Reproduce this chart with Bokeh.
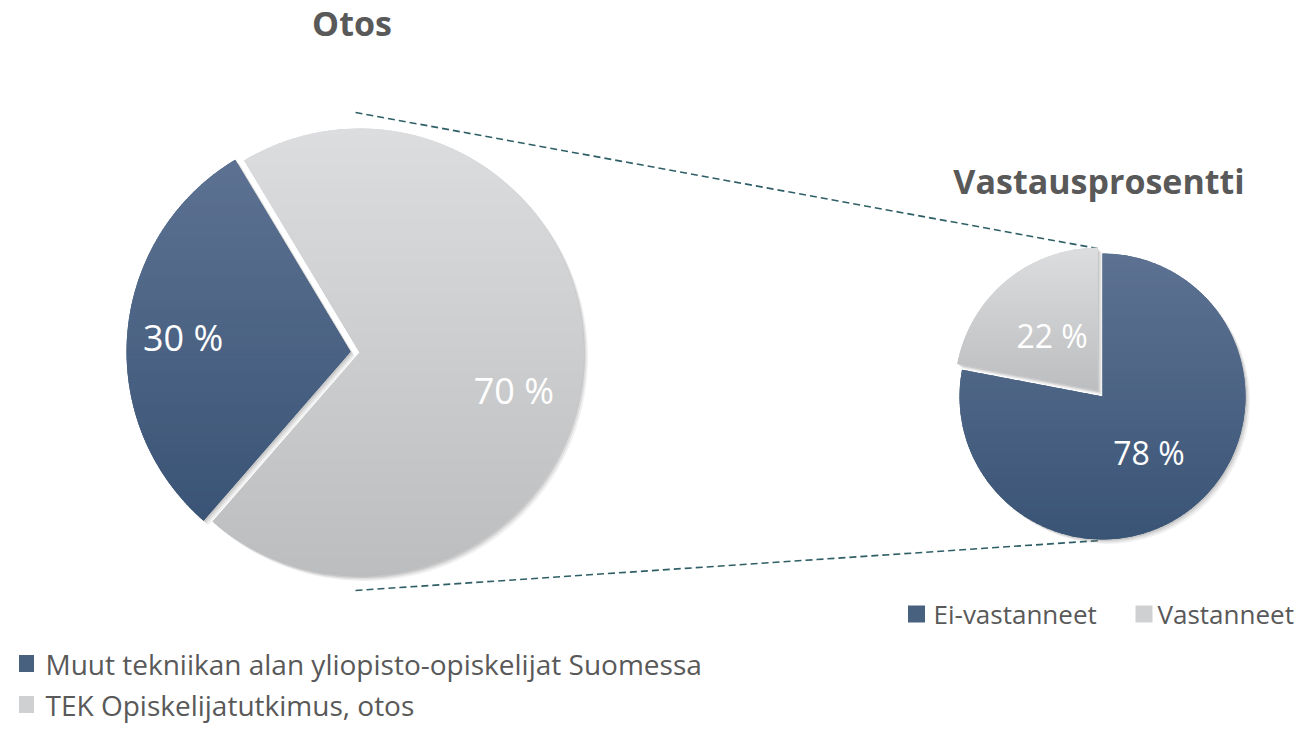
import math
import numpy as np
from bokeh.plotting import figure
from bokeh.models import Range1d, ColumnDataSource
from bokeh.core.properties import value
from bokeh.embed import file_html
from bokeh.resources import INLINE

# ---------------- data ----------------
otos_labels = ["Muut tekniikan alan yliopisto-opiskelijat Suomessa",
               "TEK Opiskelijatutkimus, otos"]
otos_values = [30, 70]

vastaus_labels = ["Ei-vastanneet", "Vastanneet"]
vastaus_values = [78, 22]

titles = ["Otos", "Vastausprosentti"]

# ---------------- style ----------------
DARK = ("#5d7292", "#3a5476")
LIGHT = ("#dcdddf", "#bcbdbf")
DARK_MID = "#48617f"
LIGHT_MID = "#cfd0d2"
TEXT_COLOR = "#595959"
LINE_COLOR = "#2f5f66"
FONT = "Open Sans"

W, H = 1296, 728

p = figure(width=W, height=H, x_range=Range1d(0, W), y_range=Range1d(0, H),
           x_axis_type=None, y_axis_type=None, output_backend="svg",
           toolbar_location=None, min_border=0)
p.grid.visible = False
p.outline_line_color = None
p.background_fill_color = "white"
p.border_fill_color = "white"


def hex2rgb(h):
    h = h.lstrip("#")
    return tuple(int(h[i:i + 2], 16) for i in (0, 2, 4))


def lerp_color(c0, c1, t):
    a, b = hex2rgb(c0), hex2rgb(c1)
    return "#%02x%02x%02x" % tuple(int(round(a[i] + (b[i] - a[i]) * t)) for i in range(3))


def clip_half(pts, inside, cross):
    out = []
    n = len(pts)
    for i in range(n):
        cur, prev = pts[i], pts[i - 1]
        if inside(cur):
            if not inside(prev):
                out.append(cross(prev, cur))
            out.append(cur)
        elif inside(prev):
            out.append(cross(prev, cur))
    return out


def cross_y(c):
    def f(a, b):
        t = (c - a[1]) / (b[1] - a[1])
        return (a[0] + t * (b[0] - a[0]), c)
    return f


def clip_slab(pts, ylo, yhi):
    pts = clip_half(pts, lambda q: q[1] >= ylo, cross_y(ylo))
    if len(pts) < 3:
        return []
    pts = clip_half(pts, lambda q: q[1] <= yhi, cross_y(yhi))
    return pts


def draw_pie(values, cx, cy, r, start_deg, explode, colors, mids, label_specs, label_size):
    total = float(sum(values))
    geo = []
    a = start_deg
    for i, v in enumerate(values):
        span = 360.0 * v / total
        a0, a1 = a, a + span
        mid = (a0 + a1) / 2.0
        scx = cx + explode[i] * math.cos(math.radians(mid))
        scy = cy + explode[i] * math.sin(math.radians(mid))
        geo.append((a0, a1, mid, scx, scy))
        a = a1
    # soft drop shadows
    for (a0, a1, mid, scx, scy) in geo:
        for off, alpha in ((4.5, 0.10), (3.0, 0.16), (1.5, 0.22)):
            p.wedge(x=[scx + off], y=[scy - off], radius=r,
                    start_angle=math.radians(a0), end_angle=math.radians(a1),
                    fill_color="#7a7a7a", fill_alpha=alpha, line_color=None)
    # slices with vertical gradient
    xs_all, ys_all, cs_all = [], [], []
    for i, (a0, a1, mid, scx, scy) in enumerate(geo):
        p.wedge(x=[scx], y=[scy], radius=r,
                start_angle=math.radians(a0), end_angle=math.radians(a1),
                fill_color=mids[i], line_color=None)
        n = max(60, int(a1 - a0) * 2)
        ang = np.radians(np.linspace(a0, a1, n))
        pts = [(scx, scy)] + list(zip(scx + r * np.cos(ang), scy + r * np.sin(ang)))
        ytop = max(q[1] for q in pts)
        ybot = min(q[1] for q in pts)
        h = 2.5
        nb = int(math.ceil((ytop - ybot) / h))
        for k in range(nb):
            yhi = ytop - k * h + 0.4
            ylo = ytop - (k + 1) * h - 0.4
            poly = clip_slab(pts, ylo, yhi)
            if len(poly) < 3:
                continue
            t = (k + 0.5) / nb
            xs_all.append([q[0] for q in poly])
            ys_all.append([q[1] for q in poly])
            cs_all.append(lerp_color(colors[i][0], colors[i][1], t))
    src = ColumnDataSource(dict(xs=xs_all, ys=ys_all, c=cs_all))
    p.patches(xs="xs", ys="ys", fill_color="c", line_color=None, source=src)
    # labels (y = visual centre of the digits)
    lx, ly, lt = [], [], []
    for i, (a0, a1, mid, scx, scy) in enumerate(geo):
        dang, frac = label_specs[i]
        la = math.radians(mid + dang)
        lx.append(scx + frac * r * math.cos(la))
        ly.append(scy + frac * r * math.sin(la))
        lt.append("%d %%" % values[i])
    p.text(x=lx, y=ly, text=lt, text_font=value(FONT),
           text_font_size=value("%dpx" % label_size), text_color="white",
           text_align="center", text_baseline="alphabetic")


# ---------------- connector lines (behind pies) ----------------
p.line(x=[355, 1097], y=[616, 480], line_color=LINE_COLOR, line_width=1.6, line_dash="7 4")
p.line(x=[355, 1100], y=[138, 188], line_color=LINE_COLOR, line_width=1.6, line_dash="7 4")

# ---------------- left pie: Otos ----------------
draw_pie(otos_values, 359, 376, 224, 121.0, [9, 0],
         [DARK, LIGHT], [DARK_MID, LIGHT_MID],
         [(0, 0.75), (-9, 0.71)], 36)

# ---------------- right pie: Vastausprosentti ----------------
rot_right = 90 + 360.0 * vastaus_values[1] / sum(vastaus_values)
draw_pie(vastaus_values, 1102, 332, 143, rot_right, [0, 7.5],
         [DARK, LIGHT], [DARK_MID, LIGHT_MID],
         [(0, 0.51), (0, 0.5)], 32)

# ---------------- titles ----------------
p.text(x=[351.5, 1098.5], y=[706, 548], text=titles, text_font=value(FONT),
       text_font_size=value("34px"), text_font_style="bold", text_color=TEXT_COLOR,
       text_align="center", text_baseline="alphabetic")

# ---------------- legend (right) ----------------
p.rect(x=[916, 1143.5], y=[114.5, 114.5], width=17, height=17,
       fill_color=[DARK_MID, LIGHT_MID], line_color=None)
p.text(x=[933, 1157], y=[114.5, 114.5], text=vastaus_labels, text_font=value(FONT),
       text_font_size=value("26px"), text_color=TEXT_COLOR,
       text_align="left", text_baseline="alphabetic")

# ---------------- legend (left) ----------------
p.rect(x=[26, 26], y=[65, 24], width=15, height=17,
       fill_color=[DARK_MID, LIGHT_MID], line_color=None)
p.text(x=[45, 45], y=[65, 24], text=otos_labels, text_font=value(FONT),
       text_font_size=value("28px"), text_color=TEXT_COLOR,
       text_align="left", text_baseline="alphabetic")

open("out.html", "w").write(file_html(p, INLINE))
